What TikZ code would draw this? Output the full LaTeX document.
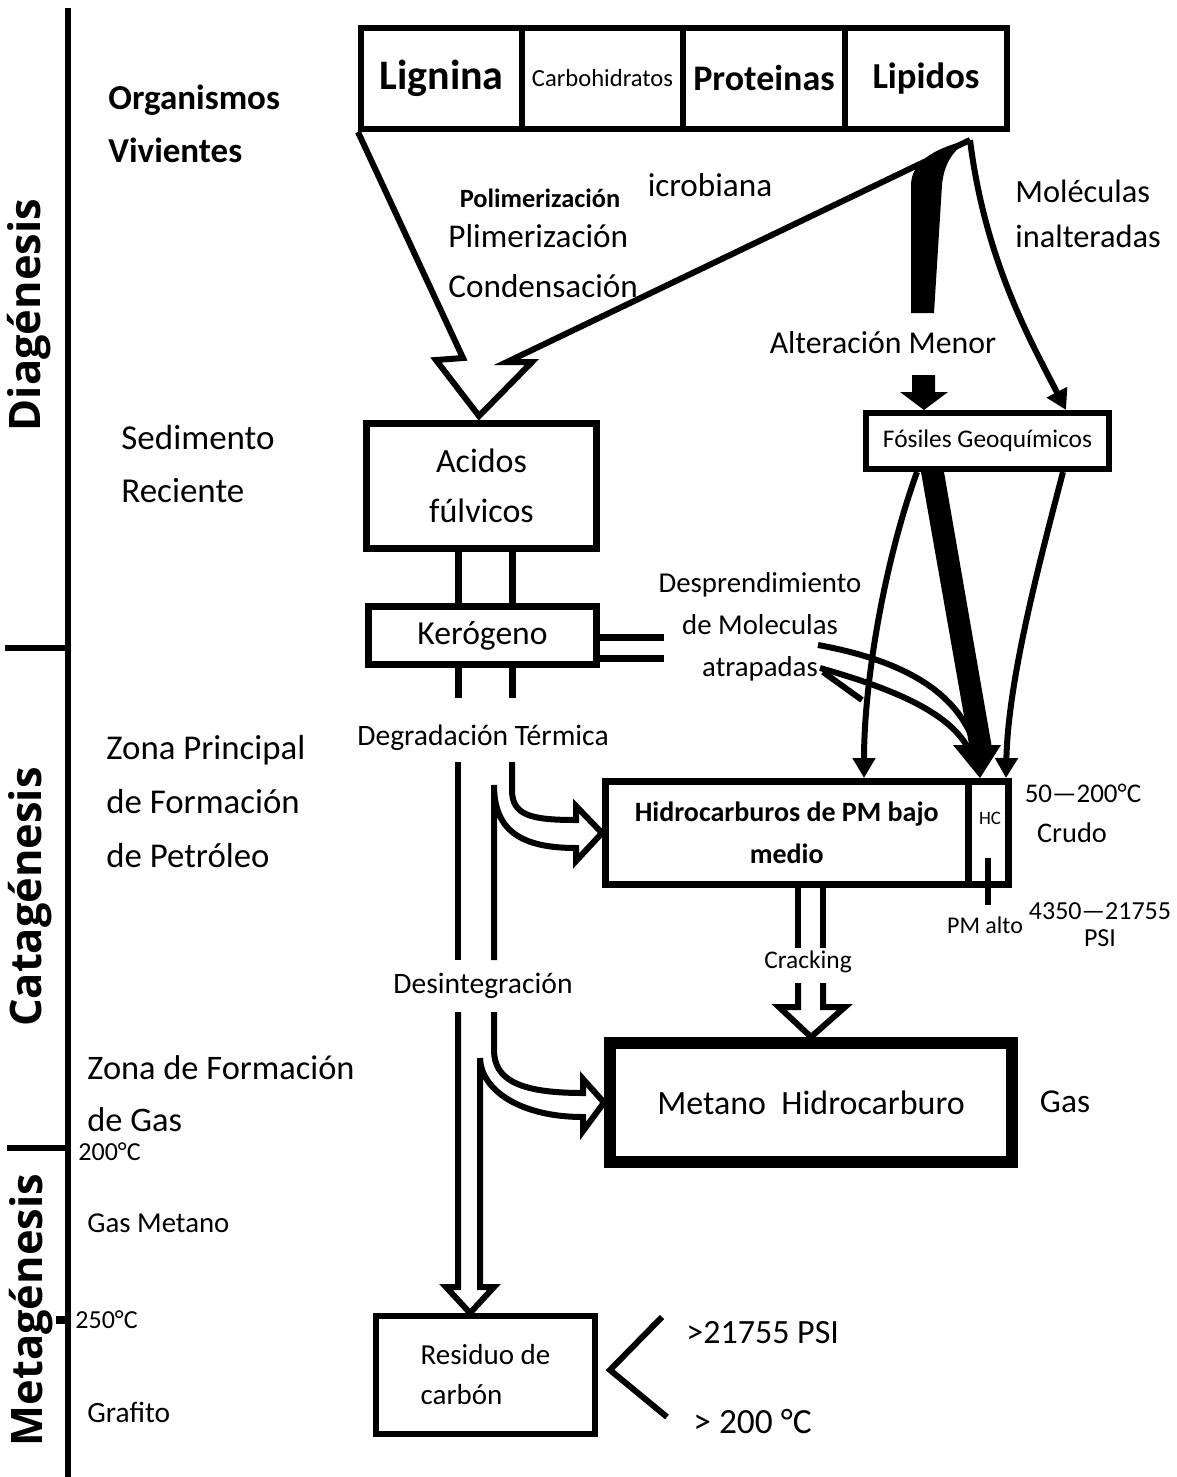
\documentclass[tikz,border=0pt]{standalone}
\usepackage{fontspec}
\setmainfont{Carlito}
\newfontfamily\stagefont{Open Sans}
\usetikzlibrary{calc}
\usetikzlibrary{arrows.meta}
\newcommand{\tsz}[2]{\fontsize{#1}{#2}\selectfont}
\tikzset{
  box/.style={draw,line width=3.5pt,inner sep=0pt,align=center},
  conn/.style={line width=3pt},
  arrowhd/.style={-{Triangle[length=10pt,width=11pt]}},
}

\begin{document}
\begin{tikzpicture}[x=0.5pt,y=-0.5pt]
    \useasboundingbox (0,0) rectangle (1177,1477);

    % Time axis with the three stages
    \draw[line width=3pt] (68,8) coordinate (AXT) -- (68,1477) coordinate (AXB);
    \draw[line width=3pt] (5,648) -- (68,648);
    \draw[line width=3pt] (7,1148) -- (68,1148);
    \draw[line width=4pt] (56,1320) -- (68,1320);
    \begin{scope}[every node/.style={rotate=90,font=\stagefont\bfseries\tsz{21.7}{26}}]
      \node (diag) at (29,315) {Diagénesis};
      \node (cata) at (30,897) {Catagénesis};
      \node (meta) at (31,1310) {Metagénesis};
    \end{scope}

    % Zone labels
    \begin{scope}[every node/.style={anchor=west,align=left,inner sep=0pt}]
      \node[font=\bfseries\tsz{17.5}{26.5}] (vivos) at (108,123.5) {Organismos\\Vivientes};
      \node[font=\tsz{17.5}{26.5}] (sedim) at (121,463.5) {Sedimento\\Reciente};
      \node[font=\tsz{17.4}{27}] (zpetro) at (106,802) {Zona Principal\\de Formación\\de Petróleo};
      \node[font=\tsz{17.2}{26}] (zgas) at (87,1094) {Zona de Formación\\de Gas};
      \node[font=\tsz{13}{15}] (t200) at (78,1152) {200°C};
      \node[font=\tsz{14.4}{17}] (gasmet) at (87,1223) {Gas Metano};
      \node[font=\tsz{13}{15}] (t250) at (75,1320) {250°C};
      \node[font=\tsz{14.7}{17}] (grafito) at (87,1412) {Grafito};
    \end{scope}

    % Organic matter
    \begin{scope}[every node/.style={draw,line width=3pt,minimum height=50.5pt,inner sep=0pt}]
      \node[minimum width=80.5pt,font=\bfseries\tsz{21}{25}] (lignina) at (441.5,78.5) {Lignina};
      \node[minimum width=80.5pt,font=\tsz{12.3}{15}] (carbo) at (602.5,78.5) {Carbohidratos};
      \node[minimum width=81pt,font=\bfseries\tsz{18}{22}] (proteinas) at (764,78.5) {Proteinas};
      \node[minimum width=81pt,font=\bfseries\tsz{18.3}{22}] (lipidos) at (926,78.5) {Lipidos};
    \end{scope}

    % Boxes
    \node[box,minimum width=115pt,minimum height=62.5pt,font=\tsz{17}{25}] (acidos) at (481.5,486) {Acidos\\fúlvicos};
    \node[box,minimum width=114pt,minimum height=29pt,font=\tsz{16.8}{20}] (kerogeno) at (482.5,635.5) {Kerógeno};
    \node[box,line width=3pt,minimum width=121.5pt,minimum height=28pt,font=\tsz{12.7}{15}] (fosiles) at (987.5,441) {Fósiles Geoquímicos};
    \node[box,minimum width=181.25pt,minimum height=51.5pt,font=\bfseries\tsz{14}{21}] (hidro) at (786.75,833) {Hidrocarburos de PM bajo\\medio};
    \node[box,minimum width=20.25pt,minimum height=51.5pt] (hc) at (988.25,833) {};
    \node[font=\tsz{9.5}{11}] (hclbl) at (990,818) {HC};
    \node[box,line width=6pt,minimum width=201pt,minimum height=59.5pt,font=\tsz{17}{20}] (metano) at (811,1102.5) {Metano\ \ Hidrocarburo};
    \node[box,line width=3pt,minimum width=109.5pt,minimum height=59pt,align=left,font=\tsz{14.5}{20}] (residuo) at (485.5,1375) {Residuo de\\carbón};

    % Process labels
    \node[font=\tsz{16.6}{20}] (micro) at (710,185) {icrobiana};
    \node[font=\bfseries\tsz{13.2}{16}] (polim) at (540,198) {Polimerización};
    \node[anchor=west,align=left,inner sep=0pt,font=\tsz{16.6}{25}] (condens) at (448,261) {Plimerización\\Condensación};
    \node[anchor=west,align=left,inner sep=0pt,font=\tsz{16.2}{22.5}] (inalt) at (1015,214) {Moléculas\\inalteradas};
    \node[font=\tsz{15.9}{19}] (altmen) at (883,343) {Alteración Menor};
    \node[align=center,font=\tsz{14.4}{21}] (desp) at (760,627) {Desprendimiento\\de Moleculas\\atrapadas};
    \node[font=\tsz{14.8}{18}] (degter) at (483,738) {Degradación Térmica};
    \node[font=\tsz{14.8}{18}] (desint) at (483,986) {Desintegración};
    \node[font=\tsz{12.7}{15}] (crack) at (808,962) {Cracking};
    \node[font=\tsz{13.5}{16}] (trango) at (1083,793) {50—200°C};
    \node[font=\tsz{14.2}{17}] (crudo) at (1072,833) {Crudo};
    \node[align=center,font=\tsz{13}{13.5}] (prango) at (1100,925) {4350—21755\\PSI};
    \node[font=\tsz{12}{14}] (pmalto) at (985,925) {PM alto};
    \node[font=\tsz{16.7}{20}] (gas) at (1065,1102) {Gas};
    \node[anchor=west,inner sep=0pt,font=\tsz{17}{20}] (psi) at (686,1333) {>21755 PSI};
    \node[anchor=west,inner sep=0pt,font=\tsz{17.7}{20}] (temp) at (693,1422) {> 200 °C};

    % Funnel into the fulvic acids
    \coordinate (SRC) at (970,140);
    \coordinate (TIP) at (479,416);
    \draw[conn] (lignina.south west) -- (463,358) -- (436,360) -- (TIP)
      -- (532,362) -- (507,362) -- (SRC);

    % Minor alteration
    \fill (SRC) .. controls (940,146) and (911,160) .. (911,185) -- (911,313)
      -- (934,313) -- (942,185) .. controls (944,162) and (955,148) .. (SRC) -- cycle;
    \fill (912,375) -- (935,375) -- (935,392) -- (948,392) -- (924,0 |- fosiles.north)
      -- (900,392) -- (912,392) -- cycle;
    \draw[conn,arrowhd] (SRC) .. controls (985,260) and (1030,340) .. (1066,0 |- fosiles.north);

    % Geochemical fossils to crude
    \draw[conn,arrowhd] (917,0 |- fosiles.south) .. controls (885,560) and (864,680) .. (864,0 |- hidro.north);
    \fill (921,0 |- fosiles.south) -- (944,0 |- fosiles.south) -- (992,748) -- (970,750) -- cycle;
    \fill (953,745) -- (1001,745) -- (980,0 |- hidro.north) -- cycle;
    \draw[conn,arrowhd] (1063,0 |- fosiles.south) .. controls (1040,560) and (1008,680) .. (1006,0 |- hidro.north);

    % Trapped molecules
    \draw[line width=3.5pt] (kerogeno.east |- 0,637) -- (664,637);
    \draw[line width=3.5pt] (kerogeno.east |- 0,658) -- (664,658);
    \coordinate (DM1) at (818,645);
    \coordinate (DM2) at (820,668);
    \draw[conn] (DM1) .. controls (900,660) and (958,690) .. (976,748);
    \draw[conn] (DM2) .. controls (890,688) and (952,712) .. (970,752);
    \draw[conn] (DM2) ++(3,4) -- (862,700);

    % Kerogen path
    \draw[line width=3.5pt] (458,0 |- acidos.south) -- (458,0 |- kerogeno.north);
    \draw[line width=3.5pt] (512,0 |- acidos.south) -- (512,0 |- kerogeno.north);
    \draw[line width=3.5pt] (458,0 |- kerogeno.south) -- (458,698);
    \draw[line width=3.5pt] (512,0 |- kerogeno.south) -- (512,698);

    % Thermal degradation
    \draw[conn] (458,762) -- (458,960);
    \draw[conn] (512,762) -- (512,790) .. controls (512,815) and (530,820) .. (576,820)
      -- (576,806) -- (hidro.west) -- (576,861) -- (576,848)
      .. controls (520,848) and (494,830) .. (494,785) -- (494,960);

    % Disintegration
    \draw[conn] (458,1012) -- (458,1287) -- (446,1287) -- (470,0 |- residuo.north)
      -- (494,1287) -- (480,1287) -- (480,1058);
    \draw[conn] (494,1012) -- (494,1050) .. controls (494,1080) and (520,1093) .. (583,1093)
      -- (583,1079) -- (metano.west) -- (583,1131) -- (583,1117)
      .. controls (520,1117) and (481,1090) .. (480,1058);

    % Cracking
    \draw[conn] (798,0 |- hidro.south) -- (798,948);
    \draw[conn] (823,0 |- hidro.south) -- (823,948);
    \draw[conn] (798,983) -- (798,1007) -- (779,1007) -- (metano.north)
      -- (845,1007) -- (823,1007) -- (823,983);

    % Heavy fraction and conditions
    \draw[conn] (988,858) -- (988,905);
    \draw[conn] (662,1317) -- (610,1370) -- (667,1417);

\end{tikzpicture}
\end{document}
